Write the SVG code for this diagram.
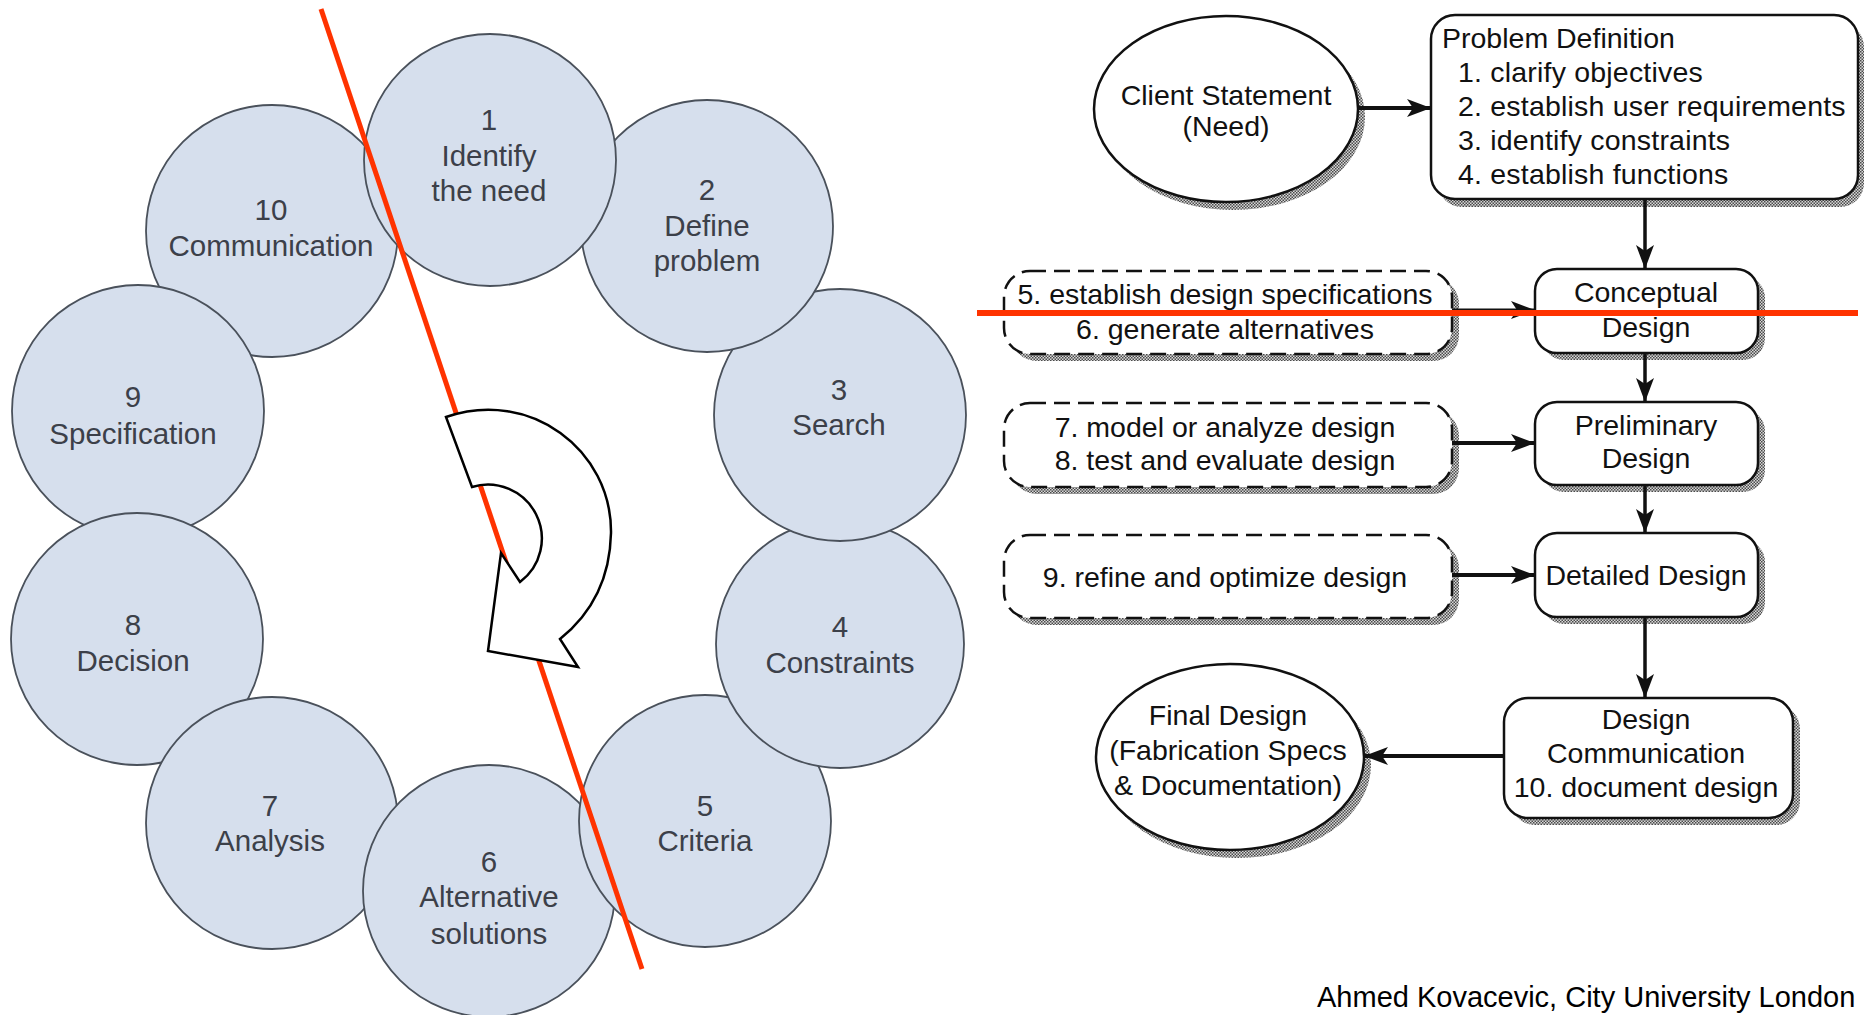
<svg xmlns="http://www.w3.org/2000/svg" width="1864" height="1015" viewBox="0 0 1864 1015">
<style>
  .c { fill: #d6dfed; stroke: #4a515b; stroke-width: 1.8; }
  .ct { font-family: "Liberation Sans", Arial, sans-serif; font-size: 29.5px; fill: #3c4049; text-anchor: middle; }
  .t { font-family: "Liberation Sans", Arial, sans-serif; font-size: 28.5px; fill: #111; }
  .m { text-anchor: middle; }
  .box { fill: #fff; stroke: #111; stroke-width: 2.5; }
  .dash { fill: #fff; stroke: #111; stroke-width: 2.5; stroke-dasharray: 16 8; }
  .sh { fill: url(#hatch); stroke: none; }
  .con { stroke: #111; fill: none; marker-end: url(#ah); }
  .red { stroke: #ff3300; fill: none; }
</style>
<defs>
  <pattern id="hatch" width="3" height="3" patternUnits="userSpaceOnUse">
    <rect width="3" height="3" fill="#d8d8d8"/>
    <rect width="1.5" height="1.5" fill="#4a4a4a"/>
    <rect x="1.5" y="1.5" width="1.5" height="1.5" fill="#4a4a4a"/>
  </pattern>
  <marker id="ah" markerUnits="userSpaceOnUse" markerWidth="26" markerHeight="18" refX="24" refY="9" orient="auto">
    <path d="M0,0 L24,9 L0,18 L6,9 Z" fill="#111"/>
  </marker>
</defs>
<rect width="1864" height="1015" fill="#fff"/>

<!-- Left: design cycle circles -->
<g id="circle10"><circle class="c" cx="272" cy="231" r="126"/><text class="ct" x="271" y="220">10</text><text class="ct" x="271" y="256">Communication</text></g>
<g id="circle9"><circle class="c" cx="138" cy="411" r="126"/><text class="ct" x="133" y="407">9</text><text class="ct" x="133" y="444">Specification</text></g>
<g id="circle8"><circle class="c" cx="137" cy="639" r="126"/><text class="ct" x="133" y="635">8</text><text class="ct" x="133" y="671">Decision</text></g>
<g id="circle7"><circle class="c" cx="272" cy="823" r="126"/><text class="ct" x="270" y="816">7</text><text class="ct" x="270" y="851">Analysis</text></g>
<g id="circle6"><circle class="c" cx="489" cy="891" r="126"/><text class="ct" x="489" y="872">6</text><text class="ct" x="489" y="907">Alternative</text><text class="ct" x="489" y="944">solutions</text></g>
<g id="circle5"><circle class="c" cx="705" cy="821" r="126"/><text class="ct" x="705" y="816">5</text><text class="ct" x="705" y="851">Criteria</text></g>
<g id="circle4"><circle class="c" cx="840" cy="644" r="124"/><text class="ct" x="840" y="637">4</text><text class="ct" x="840" y="673">Constraints</text></g>
<g id="circle3"><circle class="c" cx="840" cy="415" r="126"/><text class="ct" x="839" y="400">3</text><text class="ct" x="839" y="435">Search</text></g>
<g id="circle2"><circle class="c" cx="707" cy="226" r="126"/><text class="ct" x="707" y="200">2</text><text class="ct" x="707" y="236">Define</text><text class="ct" x="707" y="271">problem</text></g>
<g id="circle1"><circle class="c" cx="490" cy="160" r="126"/><text class="ct" x="489" y="130">1</text><text class="ct" x="489" y="166">Identify</text><text class="ct" x="489" y="201">the need</text></g>

<g id="red-diagonal"><line class="red" x1="321" y1="9" x2="642" y2="969" stroke-width="5"/></g>

<g id="cycle-arrow">
  <path d="M446,417 C530,388 612,450 611,533 C610,580 590,615 560,639 L578,667 L488,651 L501,553 L520,582 A54,54 0 0 0 472,487 Z" fill="#fff" stroke="#000" stroke-width="2.5" stroke-linejoin="miter"/>
</g>

<!-- Right: flowchart -->
<g id="client">
  <ellipse class="sh" cx="1233" cy="117" rx="132" ry="93"/>
  <ellipse class="box" cx="1226" cy="109" rx="132" ry="93"/>
  <text class="t m" x="1226" y="105">Client Statement</text>
  <text class="t m" x="1226" y="136">(Need)</text>
</g>
<g id="problem">
  <rect class="sh" x="1438" y="23" width="426" height="184" rx="24"/>
  <rect class="box" x="1431" y="15" width="427" height="184" rx="24"/>
  <text class="t" x="1442" y="48">Problem Definition</text>
  <text class="t" x="1458" y="82" letter-spacing="0.2">1. clarify objectives</text>
  <text class="t" x="1458" y="116" letter-spacing="0.2">2. establish user requirements</text>
  <text class="t" x="1458" y="150" letter-spacing="0.2">3. identify constraints</text>
  <text class="t" x="1458" y="184" letter-spacing="0.2">4. establish functions</text>
</g>
<g id="tasks56">
  <rect class="sh" x="1011" y="278" width="448" height="83" rx="26"/>
  <rect class="dash" x="1004" y="271" width="448" height="83" rx="26"/>
  <text class="t m" x="1225" y="304">5. establish design specifications</text>
  <text class="t m" x="1225" y="339">6. generate alternatives</text>
</g>
<g id="conceptual">
  <rect class="sh" x="1542" y="276" width="223" height="84" rx="22"/>
  <rect class="box" x="1535" y="269" width="223" height="84" rx="22"/>
  <text class="t m" x="1646" y="302">Conceptual</text>
  <text class="t m" x="1646" y="337">Design</text>
</g>
<g id="tasks78">
  <rect class="sh" x="1011" y="410" width="448" height="84" rx="26"/>
  <rect class="dash" x="1004" y="403" width="448" height="84" rx="26"/>
  <text class="t m" x="1225" y="437">7. model or analyze design</text>
  <text class="t m" x="1225" y="470">8. test and evaluate design</text>
</g>
<g id="preliminary">
  <rect class="sh" x="1542" y="409" width="223" height="83" rx="22"/>
  <rect class="box" x="1535" y="402" width="223" height="83" rx="22"/>
  <text class="t m" x="1646" y="435">Preliminary</text>
  <text class="t m" x="1646" y="468">Design</text>
</g>
<g id="task9">
  <rect class="sh" x="1011" y="542" width="448" height="83" rx="26"/>
  <rect class="dash" x="1004" y="535" width="448" height="83" rx="26"/>
  <text class="t m" x="1225" y="587">9. refine and optimize design</text>
</g>
<g id="detailed">
  <rect class="sh" x="1542" y="540" width="223" height="84" rx="22"/>
  <rect class="box" x="1535" y="533" width="223" height="84" rx="22"/>
  <text class="t m" x="1646" y="585">Detailed Design</text>
</g>
<g id="communication">
  <rect class="sh" x="1511" y="705" width="289" height="120" rx="24"/>
  <rect class="box" x="1504" y="698" width="289" height="120" rx="24"/>
  <text class="t m" x="1646" y="729">Design</text>
  <text class="t m" x="1646" y="763">Communication</text>
  <text class="t m" x="1646" y="797">10. document design</text>
</g>
<g id="final">
  <ellipse class="sh" cx="1237" cy="765" rx="134" ry="93"/>
  <ellipse class="box" cx="1230" cy="757" rx="134" ry="93"/>
  <text class="t m" x="1228" y="725">Final Design</text>
  <text class="t m" x="1228" y="760">(Fabrication Specs</text>
  <text class="t m" x="1228" y="795">&amp; Documentation)</text>
</g>

<g id="connectors">
  <line class="con" x1="1358" y1="108" x2="1431" y2="108" stroke-width="4"/>
  <line class="con" x1="1645" y1="199" x2="1645" y2="269" stroke-width="3.5"/>
  <line class="con" x1="1452" y1="310" x2="1535" y2="310" stroke-width="3"/>
  <line class="con" x1="1645" y1="353" x2="1645" y2="402" stroke-width="3.5"/>
  <line class="con" x1="1452" y1="443" x2="1535" y2="443" stroke-width="4"/>
  <line class="con" x1="1645" y1="485" x2="1645" y2="533" stroke-width="3.5"/>
  <line class="con" x1="1452" y1="575" x2="1535" y2="575" stroke-width="4"/>
  <line class="con" x1="1645" y1="617" x2="1645" y2="698" stroke-width="3.5"/>
  <line class="con" x1="1504" y1="756" x2="1364" y2="756" stroke-width="4"/>
</g>

<g id="red-horizontal"><line class="red" x1="977" y1="313" x2="1858" y2="313" stroke-width="6"/></g>

<g id="credit"><text x="1317" y="1007" font-family="'Liberation Sans', Arial, sans-serif" font-size="29" fill="#000">Ahmed Kovacevic, City University London</text></g>
</svg>
